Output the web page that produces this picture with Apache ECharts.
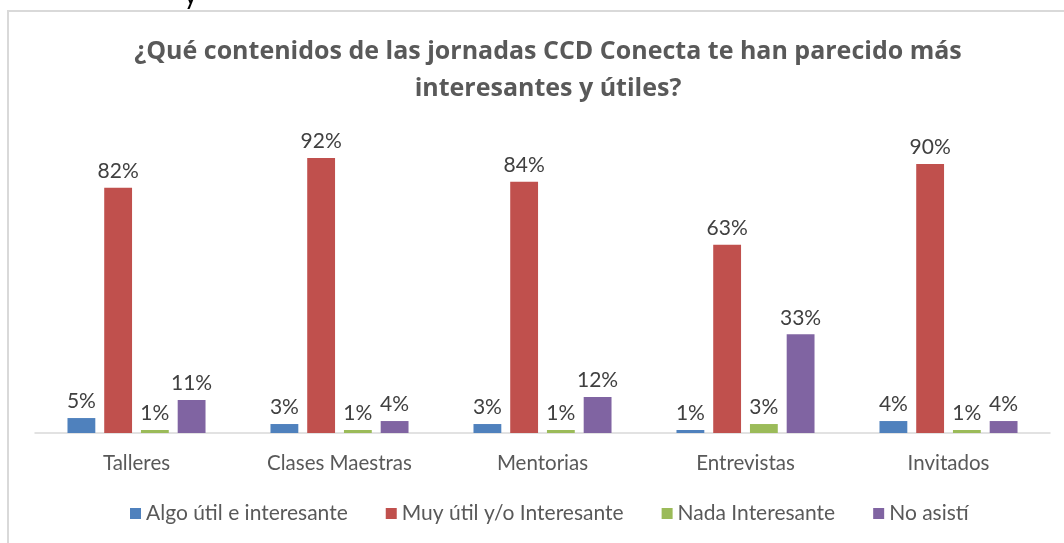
<!DOCTYPE html>
<html>
<head>
<meta charset="utf-8">
<script src="https://cdn.jsdelivr.net/npm/echarts@6/dist/echarts.min.js"></script>
<style>
	html, body { margin: 0; padding: 0; background: #fff; }
	#chart { width: 1064px; height: 543px; }
</style>
</head>
<body>
<div id="chart"></div>
<script>
// 数据
var categories = ["Talleres", "Clases Maestras", "Mentorias", "Entrevistas", "Invitados"];
var seriesNames = ["Algo útil e interesante", "Muy útil y/o Interesante", "Nada Interesante", "No asistí"];
var algoUtil = [5, 3, 3, 1, 4];
var muyUtil = [82, 92, 84, 63, 90];
var nada = [1, 1, 1, 3, 1];
var noAsisti = [11, 4, 12, 33, 4];
var colors = ["#4F81BD", "#C0504D", "#9BBB59", "#8064A2"];

(function () {
	var myChart = echarts.init(document.getElementById("chart"));
	var font = "Lato, 'Open Sans', sans-serif";

	function barSeries(i, data) {
		return {
			name: seriesNames[i],
			type: "bar",
			data: data,
			barGap: "32%",
			barCategoryGap: "32%",
			itemStyle: { color: colors[i] },
			label: {
				show: true,
				position: "top",
				distance: 6,
				formatter: "{c}%",
				color: "#404040",
				fontSize: 21,
				fontFamily: font
			}
		};
	}

	var option = {
		animation: false,
		color: colors,
		title: {
			text: "¿Qué contenidos de las jornadas CCD Conecta te han parecido más\ninteresantes y útiles?",
			left: 543,
			textAlign: "center",
			top: 28,
			textStyle: {
				color: "#595959",
				fontSize: 25,
				fontWeight: "bold",
				fontFamily: "'Open Sans', sans-serif",
				lineHeight: 37
			}
		},
		// 外框（右侧超出画面）
		graphic: [
			{
				type: "rect",
				shape: { x: 8, y: 11, width: 1100, height: 560 },
				style: { fill: "none", stroke: "#D9D9D9", lineWidth: 2 },
				silent: true
			},
			{
				type: "text",
				left: 184,
				top: -17,
				style: { text: "y", fontSize: 26, fill: "#000", fontFamily: font }
			}
		],
		legend: {
			bottom: 14,
			left: 125,
			itemWidth: 11,
			itemHeight: 11,
			itemGap: 38,
			icon: "rect",
			textStyle: { color: "#595959", fontSize: 21, fontFamily: font }
		},
		grid: {
			left: 35,
			right: 14,
			top: 134,
			bottom: 110
		},
		xAxis: {
			type: "category",
			data: categories,
			axisTick: { show: false },
			axisLine: { lineStyle: { color: "#D9D9D9", width: 1.5 } },
			axisLabel: { color: "#595959", fontSize: 20.5, fontFamily: font, margin: 20 }
		},
		yAxis: {
			type: "value",
			min: 0,
			max: 100,
			show: false,
			splitLine: { show: false }
		},
		series: [
			barSeries(0, algoUtil),
			barSeries(1, muyUtil),
			barSeries(2, nada),
			barSeries(3, noAsisti)
		]
	};

	myChart.setOption(option);
	window.addEventListener("resize", function () {
		myChart.resize();
	});
})();
</script>
</body>
</html>
